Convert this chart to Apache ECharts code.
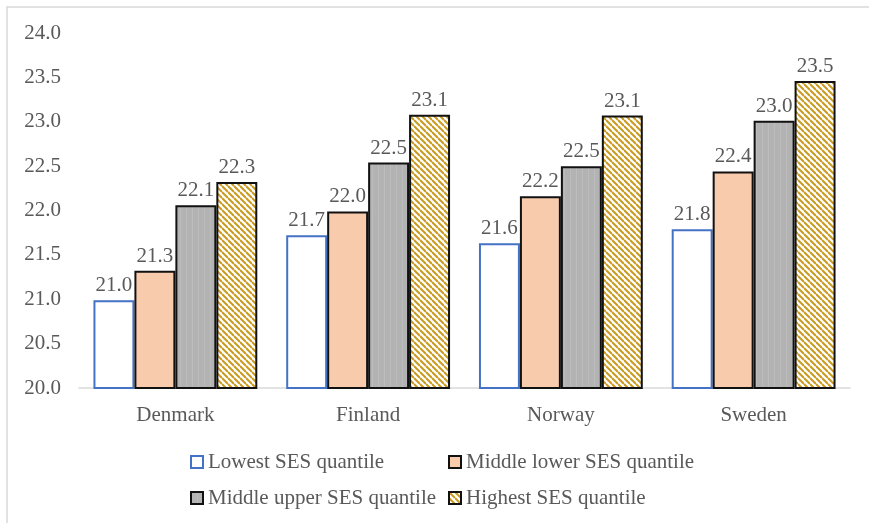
<!DOCTYPE html>
<html>
<head>
<meta charset="utf-8">
<style>html,body{margin:0;padding:0;background:#fff;}#chart{width:869px;height:523px;}</style>
<script src="https://cdn.jsdelivr.net/npm/echarts@6/dist/echarts.min.js"></script>
</head>
<body>
<div id="chart"></div>
<script>
var categories = ['Denmark', 'Finland', 'Norway', 'Sweden'];
var seriesNames = ['Lowest SES quantile', 'Middle lower SES quantile', 'Middle upper SES quantile', 'Highest SES quantile'];
var lowest = [20.99, 21.72, 21.63, 21.79];
var middleLower = [21.32, 21.99, 22.16, 22.44];
var middleUpper = [22.06, 22.54, 22.50, 23.01];
var highest = [22.32, 23.08, 23.07, 23.46];
var yTicks = { min: 20, max: 24, interval: 0.5 };

function stripePattern() {
  var s = 6;
  var c = document.createElement('canvas');
  c.width = s; c.height = s;
  var g = c.getContext('2d');
  g.fillStyle = '#ffffff';
  g.fillRect(0, 0, s, s);
  g.strokeStyle = '#c99a1e';
  g.lineWidth = 2;
  for (var k = -s; k <= s; k += s) {
    g.beginPath();
    g.moveTo(0, k);
    g.lineTo(s, k + s);
    g.stroke();
  }
  return c;
}
function grayPattern() {
  var c = document.createElement('canvas');
  c.width = 6; c.height = 6;
  var g = c.getContext('2d');
  g.fillStyle = '#b3b3b3';
  g.fillRect(0, 0, 6, 6);
  g.fillStyle = '#bcbcbc';
  g.fillRect(0, 0, 1, 6);
  return c;
}

var font = '"Liberation Serif", "Times New Roman", serif';
var textColor = '#595959';

var styles = [
  { color: '#ffffff', borderColor: '#4472c4', borderWidth: 2 },
  { color: '#f8cbad', borderColor: '#111111', borderWidth: 2 },
  { color: { image: grayPattern(), repeat: 'repeat' }, borderColor: '#111111', borderWidth: 2 },
  { color: { image: stripePattern(), repeat: 'repeat' }, borderColor: '#111111', borderWidth: 2 }
];
var datas = [lowest, middleLower, middleUpper, highest];

var series = seriesNames.map(function (n, i) {
  return {
    name: n,
    type: 'bar',
    data: datas[i],
    barGap: '0%',
    barCategoryGap: '15%',
    itemStyle: styles[i],
    label: {
      show: true,
      position: 'top',
      distance: 4,
      color: textColor,
      fontFamily: font,
      fontSize: 21,
      formatter: function (p) { return p.value.toFixed(1); }
    }
  };
});

var legendBase = {
  orient: 'vertical',
  itemWidth: 12,
  itemHeight: 12,
  itemGap: 12,
  icon: 'rect',
  textStyle: { color: textColor, fontFamily: font, fontSize: 21, lineHeight: 24 }
};

var chart = echarts.init(document.getElementById('chart'), null, { renderer: 'canvas' });
chart.setOption({
  animation: false,
  backgroundColor: '#ffffff',
  graphic: [{
    type: 'rect',
    shape: { x: 7, y: 7, width: 1000, height: 700 },
    style: { fill: 'none', stroke: '#d9d9d9', lineWidth: 1.5 },
    silent: true, z: -1
  }],
  grid: { left: 79, right: 19, top: 33, bottom: 135 },
  legend: [
    Object.assign({ left: 185, top: 445, data: [seriesNames[0], seriesNames[2]] }, legendBase),
    Object.assign({ left: 443, top: 445, data: [seriesNames[1], seriesNames[3]] }, legendBase)
  ],
  xAxis: {
    type: 'category',
    data: categories,
    axisLine: { lineStyle: { color: '#d9d9d9', width: 1.5 } },
    axisTick: { show: false },
    axisLabel: { color: textColor, fontFamily: font, fontSize: 21, margin: 17 }
  },
  yAxis: {
    type: 'value',
    min: yTicks.min, max: yTicks.max, interval: yTicks.interval,
    axisLine: { show: false },
    axisTick: { show: false },
    splitLine: { show: false },
    axisLabel: { color: textColor, fontFamily: font, fontSize: 21, margin: 18,
      formatter: function (v) { return v.toFixed(1); } }
  },
  series: series
});
</script>
</body>
</html>
